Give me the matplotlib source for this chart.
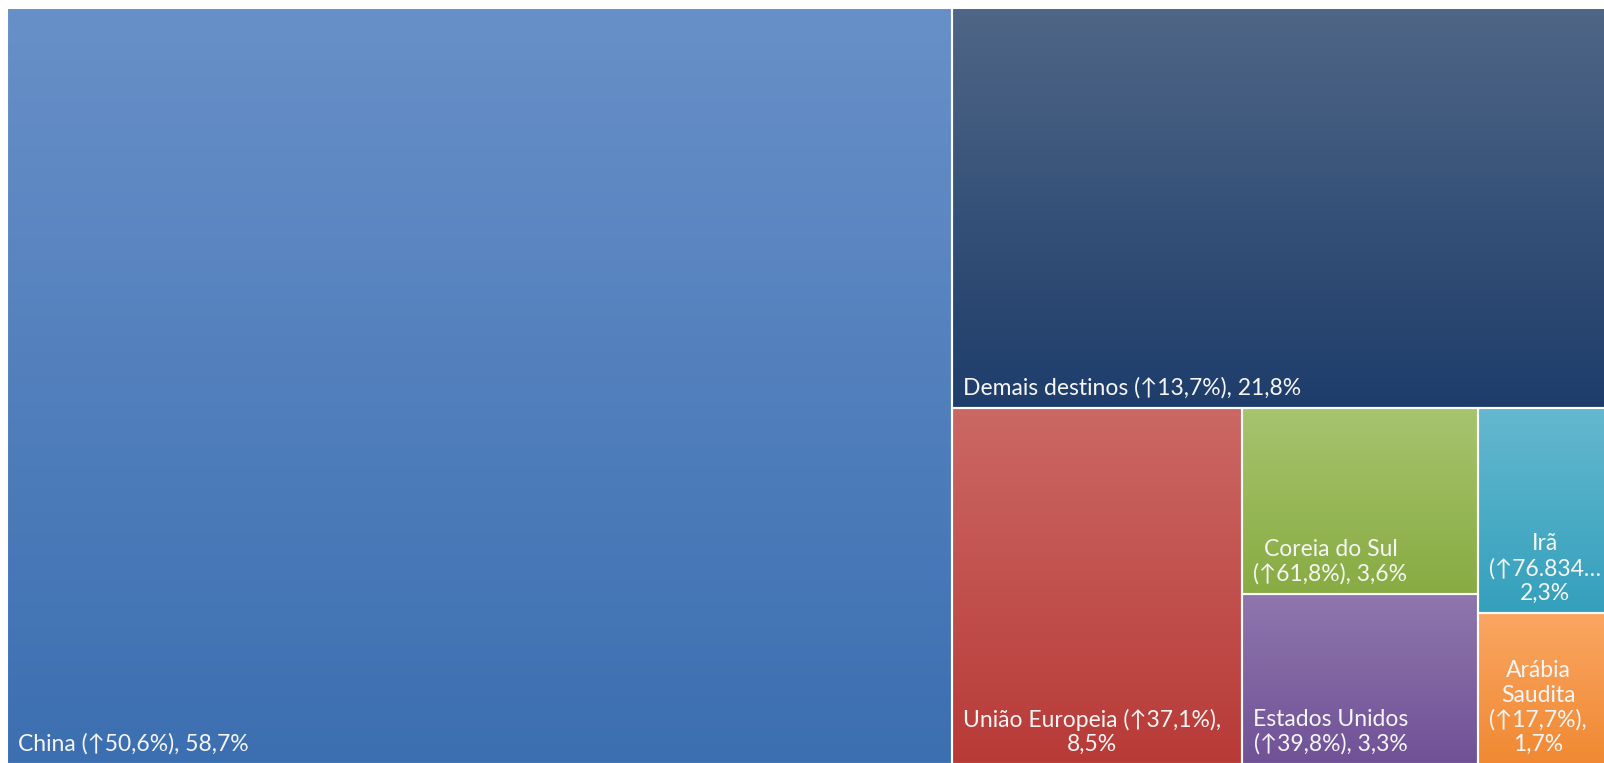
import matplotlib
matplotlib.use("Agg")
import matplotlib.pyplot as plt
import numpy as np
from matplotlib.colors import LinearSegmentedColormap

plt.rcParams['font.family'] = ['Lato', 'DejaVu Sans']

# Dados: participação (%) por destino e rótulos como no gráfico
destinos = ["China", "Demais destinos", "União Europeia", "Coreia do Sul",
            "Estados Unidos", "Irã", "Arábia Saudita"]
participacao = [58.7, 21.8, 8.5, 3.6, 3.3, 2.3, 1.7]
rotulos = ["China (↑50,6%), 58,7%",
           "Demais destinos (↑13,7%), 21,8%",
           "União Europeia (↑37,1%),\n8,5%",
           "Coreia do Sul\n(↑61,8%), 3,6%",
           "Estados Unidos\n(↑39,8%), 3,3%",
           "Irã\n(↑76.834…\n2,3%",
           "Arábia\nSaudita\n(↑17,7%),\n1,7%"]
# cor do topo e da base de cada retângulo (gradiente)
cores = [("#6890C8", "#3C6FB1"),
         ("#4F6686", "#1E3D6B"),
         ("#CB6864", "#B83A37"),
         ("#A7C46E", "#88AB42"),
         ("#8F77AD", "#705197"),
         ("#64B8CF", "#34A0BC"),
         ("#FAA663", "#F08932")]

LARGURA, ALTURA = 1608, 756  # área do treemap em pixels


def pior(linha, lado):
    """Pior razão de aspecto de uma linha do squarify."""
    s = sum(linha)
    return max(max(lado ** 2 * r / s ** 2, s ** 2 / (lado ** 2 * r)) for r in linha)


def squarify(areas, x, y, w, h):
    retangulos = []
    areas = list(areas)
    while areas:
        lado = min(w, h)
        linha = [areas[0]]
        i = 1
        while i < len(areas) and pior(linha + [areas[i]], lado) <= pior(linha, lado):
            linha.append(areas[i])
            i += 1
        areas = areas[i:]
        s = sum(linha)
        if w >= h:  # coluna à esquerda
            cw = s / h
            yy = y
            for r in linha:
                retangulos.append((x, yy, cw, r / cw))
                yy += r / cw
            x += cw
            w -= cw
        else:  # linha no topo
            rh = s / w
            xx = x
            for r in linha:
                retangulos.append((xx, y, r / rh, rh))
                xx += r / rh
            y += rh
            h -= rh
    return retangulos


valores = np.array(participacao)
areas = valores / valores.sum() * LARGURA * ALTURA
retangulos = squarify(areas, 0, 0, LARGURA, ALTURA)

fig = plt.figure(figsize=(16.04, 7.63), dpi=100)
ax = fig.add_axes([7 / 1604, -1 / 763, LARGURA / 1604, ALTURA / 763])
ax.set_xlim(0, LARGURA)
ax.set_ylim(ALTURA, 0)
ax.axis('off')

gradiente = np.linspace(0, 1, 256).reshape(-1, 1)
for (x, y, w, h), (topo, base), rotulo in zip(retangulos, cores, rotulos):
    cmap = LinearSegmentedColormap.from_list("g", [topo, base])
    ax.imshow(gradiente, cmap=cmap, aspect='auto', extent=(x, x + w, y + h, y),
              interpolation='bilinear', zorder=1)
    ax.add_patch(plt.Rectangle((x, y), w, h, fill=False, edgecolor='white',
                               linewidth=1.5, zorder=2))
    ax.text(x + 11, y + h - 9, rotulo, ha='left', va='bottom', multialignment='center',
            color='#F6F6F6', fontsize=16.5, linespacing=1.2, zorder=3)

ax.set_xlim(0, LARGURA)
ax.set_ylim(ALTURA, 0)
fig.savefig("out.png", dpi=100)
